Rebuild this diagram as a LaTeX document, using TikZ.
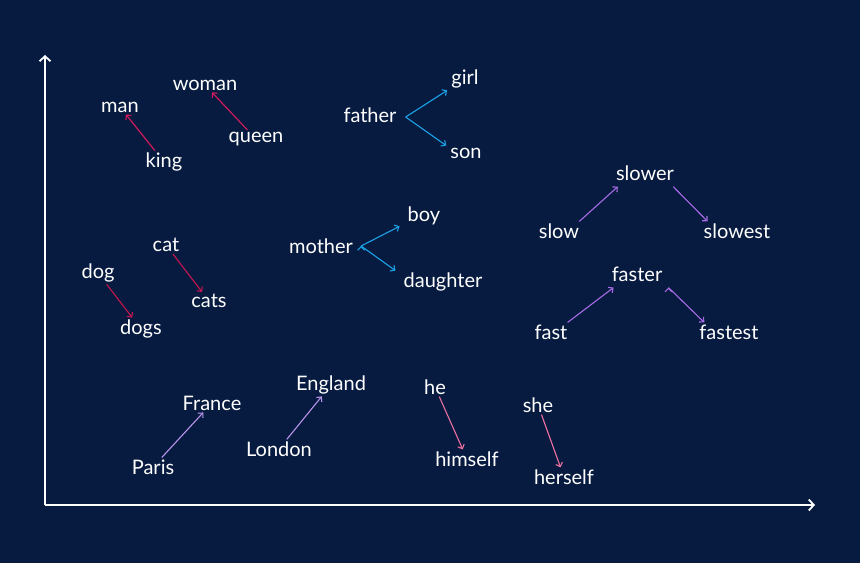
\documentclass[tikz,border=0pt]{standalone}
\usepackage{fontspec}
\setmainfont{Lato}
\usetikzlibrary{arrows.meta,positioning}
\definecolor{bgnavy}{HTML}{071B41}
\definecolor{royal}{HTML}{D81A5C}
\definecolor{plural}{HTML}{C5164F}
\definecolor{kincyan}{HTML}{1AA3E8}
\definecolor{degree}{HTML}{A86BE6}
\definecolor{capital}{HTML}{B894EC}
\definecolor{reflex}{HTML}{F0709F}

\begin{document}
\begin{tikzpicture}[x=1pt, y=-1pt,
    word/.style={text=white, font=\fontsize{20}{24}\selectfont, inner sep=2pt},
    vec/.style={line width=1.1pt, -{Straight Barb[length=3.5pt,width=7pt]}},
    axis/.style={white, line width=1.8pt, -{Straight Barb[length=5pt,width=11pt]}}]
                                \fill[bgnavy] (0, 0) rectangle (860, 563);
                                \useasboundingbox (0, 0) rectangle (860, 563);

                                \coordinate (o) at (45, 505);
                                \coordinate (ytip) at (45, 55);
                                \coordinate (xtip) at (815, 505);
                                \draw[axis] (o) -- (ytip);
                                \draw[axis] (o) -- (xtip);

                                \node[word] (man) at (120, 107) {man};
                                \node[word] (woman) at (205, 85) {woman};
                                \node[word] (king) at (164, 162) {king};
                                \node[word] (queen) at (256, 139) {queen};

                                \node[word] (father) at (370, 115) {father};
                                \node[word] (girl) at (465, 79) {girl};
                                \node[word] (son) at (466, 153) {son};

                                \node[word] (slower) at (645, 173) {slower};
                                \node[word] (slow) at (559, 231) {slow};
                                \node[word] (slowest) at (737, 231) {slowest};

                                \node[word] (cat) at (166, 245) {cat};
                                \node[word] (dog) at (98, 273) {dog};
                                \node[word] (cats) at (209, 301) {cats};
                                \node[word] (dogs) at (141, 329) {dogs};

                                \node[word] (mother) at (321, 246) {mother};
                                \node[word] (boy) at (424, 216) {boy};
                                \node[word] (daughter) at (443, 282) {daughter};

                                \node[word] (faster) at (637, 274) {faster};
                                \node[word] (fast) at (551, 332) {fast};
                                \node[word] (fastest) at (729, 332) {fastest};

                                \node[word] (france) at (212, 403) {France};
                                \node[word] (england) at (331, 385) {England};
                                \node[word] (paris) at (153, 467) {Paris};
                                \node[word] (london) at (279, 449) {London};

                                \node[word] (he) at (435, 387) {he};
                                \node[word] (himself) at (467, 459) {himself};
                                \node[word] (she) at (538, 405) {she};
                                \node[word] (herself) at (564, 477) {herself};

                                \draw[vec, royal]
                                (king) edge (man)
                                (queen) edge (woman);
                                \draw[vec, plural]
                                (cat) edge (cats)
                                (dog) edge (dogs);
                                \draw[vec, kincyan]
                                ([xshift=7pt,yshift=-2pt]father.east) edge ([xshift=-2pt]girl.south west)
                                ([xshift=7pt,yshift=-2pt]father.east) edge ([xshift=-2pt]son.north west)
                                ([xshift=6pt]mother.east) edge ([xshift=-6pt,yshift=1pt]boy.south west)
                                ([xshift=6pt]mother.east) edge ([xshift=-6pt]daughter.north west);
                                \draw[vec, degree]
                                ([xshift=-2pt]slow.north east) edge ([xshift=4pt,yshift=-4pt]slower.south west)
                                ([xshift=-3pt,yshift=-4pt]slower.south east) edge ([xshift=6pt]slowest.north west)
                                ([xshift=-2pt]fast.north east) edge ([xshift=4pt,yshift=-4pt]faster.south west)
                                ([xshift=4pt,yshift=-4pt]faster.south east) edge ([xshift=7pt]fastest.north west);
                                \draw[vec, capital]
                                (paris) edge (france)
                                (london) edge (england);
                                \draw[vec, reflex]
                                (he) edge (himself)
                                (she) edge (herself);
                            \end{tikzpicture}
\end{document}
